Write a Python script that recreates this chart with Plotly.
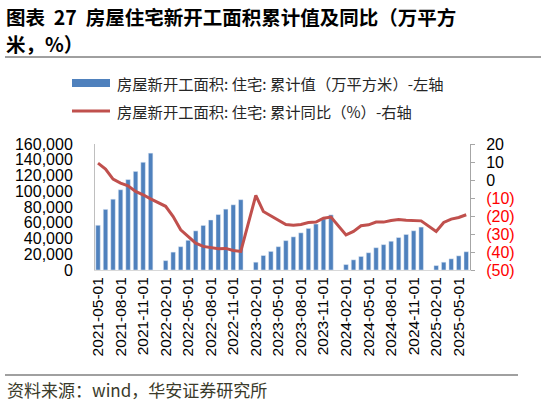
import pandas as pd
import plotly.graph_objects as go

# monthly categories, Jan kept as an empty slot (Jan/Feb reported together)
months = pd.date_range("2021-05-01", "2025-06-01", freq="MS").strftime("%Y-%m-%d").tolist()

# 房屋新开工面积:住宅:累计值 (万平方米)
area_cum = [
    56800, 77000, 89900, 101900, 114800, 125200, 136800, 148400,
    None, 11900, 22700, 29600, 37700, 49700, 56600, 63500, 70400, 77300, 82800, 89300,
    None, 9900, 18400, 23600, 29600, 37300, 42100, 47200, 52800, 58400, 64800, 70000,
    None, 6900, 12900, 17200, 21900, 28300, 32200, 36500, 41200, 45100, 49800, 54500,
    None, 5600, 9900, 14200, 18000, 23200,
]
# 房屋新开工面积:住宅:累计同比 (%)
area_yoy = [
    9.4, 6.1, 0.5, -1.7, -3.2, -6.3, -8.2, -10.5,
    None, -14.6, -20.3, -27.7, -31.4, -35.1, -36.9, -37.4, -38.2, -38.0, -39.2, -39.7,
    None, -8.6, -17.5, -19.9, -22.1, -24.7, -25.1, -24.7, -23.6, -23.4, -21.2, -20.6,
    None, -30.5, -28.6, -25.4, -24.9, -23.4, -23.4, -22.5, -21.9, -22.3, -22.5, -22.7,
    None, -28.6, -23.6, -21.7, -20.8, -19.3,
]

left_ticks = list(range(0, 160001, 20000))
right_ticks = list(range(-50, 21, 10))
right_text = [str(v) if v >= 0 else f'<span style="color:#ff0000">({-v})</span>' for v in right_ticks]
x_ticks = months[::3]

W, H = 541, 401
L, R, T, B = 95, 71, 144, 131
CJK = "Noto Sans CJK SC"
NUM = "Liberation Sans"
BLUE = "#4f81bd"
RED = "#c0504d"


def px(x, y):
    # pixel position -> paper coords
    return (x - L) / (W - L - R), (H - B - y) / (H - T - B)


fig = go.Figure()
fig.add_trace(go.Bar(x=months, y=area_cum, marker_color=BLUE, name="累计值", yaxis="y"))
fig.add_trace(go.Scatter(x=months, y=area_yoy, mode="lines", connectgaps=True,
                         line=dict(color=RED, width=3), name="累计同比", yaxis="y2"))

fig.update_layout(
    width=W, height=H, margin=dict(l=L, r=R, t=T, b=B),
    paper_bgcolor="white", plot_bgcolor="white", showlegend=False, bargap=0.4,
    font=dict(family=NUM, size=16, color="#000000"),
    xaxis=dict(type="category", tickmode="array", tickvals=x_ticks, ticktext=x_ticks,
               tickangle=-90, range=[-0.4, 49.5], showline=True, linecolor="#d9d9d9",
               linewidth=1, ticks="", showgrid=False, tickfont=dict(size=15.5)),
    yaxis=dict(range=[0, 160000], tickvals=left_ticks, tickformat=",", showgrid=False,
               showline=True, linecolor="#bfbfbf", ticks="", ticklabelstandoff=18,
               zeroline=False),
    yaxis2=dict(range=[-50, 20], tickvals=right_ticks, ticktext=right_text, overlaying="y",
                side="right", showgrid=False, showline=True, linecolor="#a6a6a6",
                ticks="outside", ticklen=4, tickcolor="#a6a6a6", ticklabelstandoff=8,
                zeroline=False),
)

# title, two lines
for text, yy in [("<b>图表&nbsp;&nbsp;27&nbsp;&nbsp;房屋住宅新开工面积累计值及同比（万平方</b>", 16),
                 ("<b>米，%）</b>", 44)]:
    tx, ty = px(4, yy)
    fig.add_annotation(xref="paper", yref="paper", x=tx, y=ty, xanchor="left", yanchor="middle",
                       align="left", showarrow=False, text=text,
                       font=dict(family=CJK, size=19.5, color="#000000"))
x0, y0 = px(5, 57)
x1, _ = px(541, 57)
fig.add_shape(type="line", xref="paper", yref="paper", x0=x0, x1=x1, y0=y0, y1=y0,
              line=dict(color="#404040", width=1))

# legend
for i, (label, kind) in enumerate([("房屋新开工面积: 住宅: 累计值（万平方米）-左轴", "bar"),
                                   ("房屋新开工面积: 住宅: 累计同比（%）-右轴", "line")]):
    yy = 83 + i * 28
    a0, b0 = px(72, yy - 4)
    a1, b1 = px(110, yy + 4)
    if kind == "bar":
        fig.add_shape(type="rect", xref="paper", yref="paper", x0=a0, x1=a1, y0=b1, y1=b0,
                      fillcolor=BLUE, line=dict(width=0))
    else:
        _, bm = px(0, yy)
        fig.add_shape(type="line", xref="paper", yref="paper", x0=a0, x1=a1, y0=bm, y1=bm,
                      line=dict(color=RED, width=3))
    lx, ly = px(115, yy)
    fig.add_annotation(xref="paper", yref="paper", x=lx, y=ly, xanchor="left", yanchor="middle",
                       showarrow=False, text=label, font=dict(family=CJK, size=15.3, color="#262626"))

# source line
x0, y0 = px(5, 375)
x1, _ = px(518, 375)
fig.add_shape(type="line", xref="paper", yref="paper", x0=x0, x1=x1, y0=y0, y1=y0,
              line=dict(color="#808080", width=1.5))
sx, sy = px(5, 389)
fig.add_annotation(xref="paper", yref="paper", x=sx, y=sy, xanchor="left", yanchor="middle",
                   showarrow=False, text="资料来源：wind，华安证券研究所",
                   font=dict(family=CJK, size=17, color="#3a3a2a"))

# drop the default 8px body margin so the figure sits at the window corner
fig.write_html("out.html", config={"displayModeBar": False},
               post_script="document.body.style.margin='0';")
